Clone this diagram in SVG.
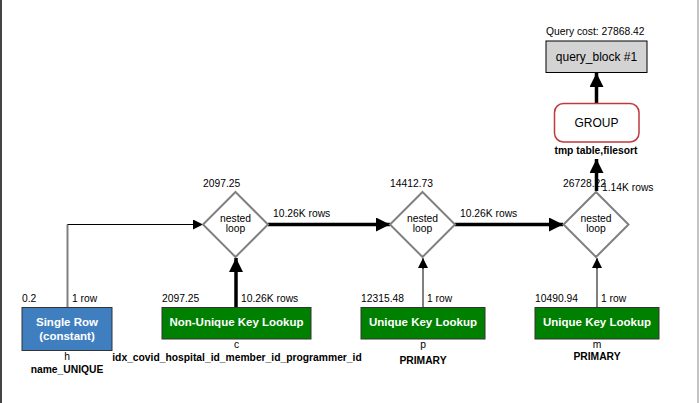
<svg xmlns="http://www.w3.org/2000/svg" width="699" height="403" viewBox="0 0 699 403">
<defs>
<marker id="ah" viewBox="0 0 10 10" refX="10" refY="5" markerWidth="10" markerHeight="10" markerUnits="userSpaceOnUse" orient="auto">
<path d="M0,0 L10,5 L0,10 z" fill="#000"/>
</marker>
<marker id="ahb" viewBox="0 0 10 10" refX="10" refY="5" markerWidth="4" markerHeight="4" orient="auto">
<path d="M0,0 L10,5 L0,10 z" fill="#000"/>
</marker>
<style>
text{font-family:"Liberation Sans",Arial,sans-serif;fill:#000}
.s{font-size:10.3px}
.b{font-size:10.3px;font-weight:bold}
.w{font-size:11.5px;font-weight:bold;fill:#fff;text-anchor:middle}
.c{text-anchor:middle}
.dia{fill:#fff;stroke:#808080;stroke-width:2}
.tbl{fill:#008000;stroke:#333;stroke-width:1}
.thin{stroke:#000;stroke-width:1;fill:none}
.grey{stroke:#808080;stroke-width:2;fill:none}
.thick{stroke:#000;stroke-width:3.5;fill:none}
</style>
</defs>
<rect width="699" height="403" fill="#fff"/>
<line x1="1" y1="0" x2="1" y2="403" stroke="#444" stroke-width="2"/>
<line x1="698" y1="0" x2="698" y2="403" stroke="#888" stroke-width="1"/>

<g id="connectors">
<path class="grey" d="M67.5,307 V224.5"/>
<path class="thin" d="M67.5,224.5 H203" marker-end="url(#ah)"/>
<path class="thick" d="M236,307 V258" marker-end="url(#ahb)"/>
<path class="thick" d="M268,224.5 H390" marker-end="url(#ahb)"/>
<path class="thick" d="M455,224.5 H563" marker-end="url(#ahb)"/>
<path class="grey" d="M423,307 V268"/>
<path class="thin" d="M423,269 V258" marker-end="url(#ah)"/>
<path class="grey" d="M597,307 V268"/>
<path class="thin" d="M597,269 V258" marker-end="url(#ah)"/>
<path class="thick" d="M596.5,191 V159" marker-end="url(#ahb)"/>
<path class="thick" d="M596.5,103 V73" marker-end="url(#ahb)"/>
<text class="s" x="273" y="217">10.26K rows</text>
<text class="s" x="460" y="217">10.26K rows</text>
<text class="s" x="602" y="191">1.14K rows</text>
</g>

<g id="query_block">
<text class="s" x="546" y="35">Query cost: 27868.42</text>
<rect x="546" y="41" width="101" height="31.5" fill="#d3d3d3" stroke="#000" stroke-width="1"/>
<text class="c" x="596.5" y="61" font-size="12">query_block #1</text>
</g>

<g id="group">
<rect x="554.5" y="103.5" width="84.5" height="38.5" rx="9" fill="#fff" stroke="#c0393b" stroke-width="1.5"/>
<text class="c" x="596.5" y="127" font-size="12">GROUP</text>
<text class="b c" x="596" y="154">tmp table,filesort</text>
</g>

<g id="nl1">
<text class="s" x="203" y="187">2097.25</text>
<polygon class="dia" points="235.5,192 268,224.5 235.5,257 203,224.5"/>
<text class="s c" x="235.5" y="222">nested</text>
<text class="s c" x="235.5" y="232">loop</text>
</g>

<g id="nl2">
<text class="s" x="390" y="187">14412.73</text>
<polygon class="dia" points="422.5,192 455,224.5 422.5,257 390,224.5"/>
<text class="s c" x="422.5" y="222">nested</text>
<text class="s c" x="422.5" y="232">loop</text>
</g>

<g id="nl3">
<text class="s" x="563" y="187">26728.22</text>
<polygon class="dia" points="596,192 628.5,224.5 596,257 563.5,224.5"/>
<text class="s c" x="596" y="222">nested</text>
<text class="s c" x="596" y="232">loop</text>
</g>

<g id="h">
<text class="s" x="22" y="302">0.2</text>
<text class="s" x="72" y="302">1 row</text>
<rect x="22" y="307.5" width="90" height="43" fill="#3f7fc0" stroke="#333" stroke-width="1"/>
<text class="w" x="67" y="326">Single Row</text>
<text class="w" x="67" y="340">(constant)</text>
<text class="s c" x="67" y="360">h</text>
<text class="b c" x="67" y="373">name_UNIQUE</text>
</g>

<g id="c">
<text class="s" x="162" y="302">2097.25</text>
<text class="s" x="241" y="302">10.26K rows</text>
<rect class="tbl" x="162" y="307.5" width="149" height="31.5"/>
<text class="w" x="236.5" y="326">Non-Unique Key Lookup</text>
<text class="s c" x="236.5" y="348">c</text>
<text class="b c" x="237" y="361">idx_covid_hospital_id_member_id_programmer_id</text>
</g>

<g id="p">
<text class="s" x="361" y="302">12315.48</text>
<text class="s" x="427" y="302">1 row</text>
<rect class="tbl" x="361" y="307.5" width="124" height="31.5"/>
<text class="w" x="423" y="326">Unique Key Lookup</text>
<text class="s c" x="423" y="348">p</text>
<text class="b c" x="423" y="364">PRIMARY</text>
</g>

<g id="m">
<text class="s" x="535" y="302">10490.94</text>
<text class="s" x="601" y="302">1 row</text>
<rect class="tbl" x="535" y="307.5" width="124" height="31.5"/>
<text class="w" x="597" y="326">Unique Key Lookup</text>
<text class="s c" x="597" y="348">m</text>
<text class="b c" x="597" y="360">PRIMARY</text>
</g>
</svg>
